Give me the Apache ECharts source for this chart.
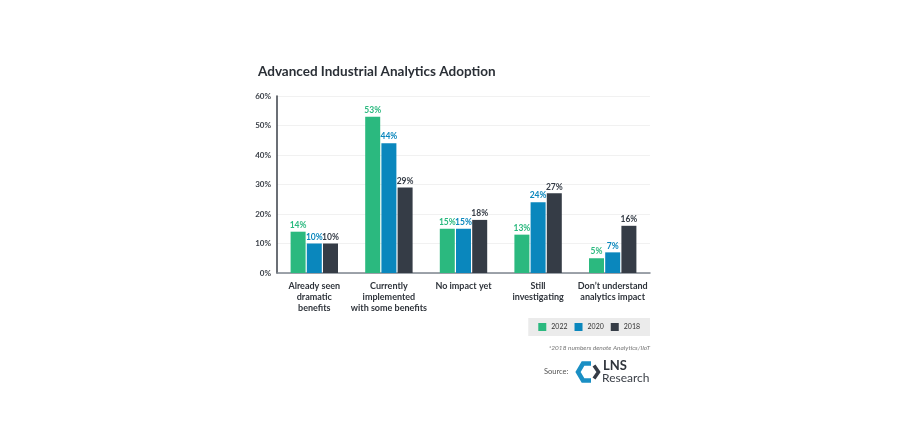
<!DOCTYPE html>
<html lang="en">
<head>
    <meta charset="UTF-8">
    <title>Advanced Industrial Analytics Adoption</title>
    <script src="https://cdn.jsdelivr.net/npm/echarts@6/dist/echarts.min.js"></script>
    <style>
        html, body { margin: 0; padding: 0; background: #fff; }
        #main { width: 900px; height: 433px; }
    </style>
</head>
<body>
<div id="main"></div>
<script>
    // categories and values
    var categories = [
        'Already seen\ndramatic\nbenefits',
        'Currently\nimplemented\nwith some benefits',
        'No impact yet',
        'Still\ninvestigating',
        'Don\u2019t understand\nanalytics impact'
    ];
    var years = ['2022', '2020', '2018'];
    var values2022 = [14, 53, 15, 13, 5];
    var values2020 = [10, 44, 15, 24, 7];
    var values2018 = [10, 29, 18, 27, 16];
    var colors = ['#2bb97f', '#0a87bd', '#353c46'];

    var font = 'Lato, "Open Sans", sans-serif';
    var myChart = echarts.init(document.getElementById('main'));

    function makeSeries(name, data, color) {
        return {
            name: name,
            type: 'bar',
            data: data,
            barWidth: 15,
            barGap: '8%',
            itemStyle: {color: color},
            label: {
                show: true,
                position: 'top',
                distance: 2,
                formatter: '{c}%',
                color: color,
                fontFamily: font,
                fontSize: 8.5,
                fontWeight: 'bold'
            }
        };
    }

    var option = {
        animation: false,
        backgroundColor: '#fff',
        color: colors,
        title: {
            text: 'Advanced Industrial Analytics Adoption',
            left: 253,
            top: 60,
            textStyle: {fontFamily: font, fontSize: 13.5, fontWeight: 'bold', color: '#2a2f36'}
        },
        grid: {left: 277, right: 250, top: 96, bottom: 160},
        legend: {
            data: years,
            right: 250,
            top: 318,
            padding: [5, 10, 5, 10],
            backgroundColor: '#ebebeb',
            icon: 'rect',
            itemWidth: 8,
            itemHeight: 8,
            itemGap: 7,
            textStyle: {fontFamily: font, fontSize: 7, color: '#333'}
        },
        xAxis: {
            type: 'category',
            data: categories,
            axisTick: {show: false},
            axisLine: {lineStyle: {color: '#7d858f', width: 1.5}},
            axisLabel: {
                interval: 0,
                margin: 8,
                fontFamily: font,
                fontSize: 9,
                fontWeight: 'bold',
                lineHeight: 11,
                color: '#2f343b'
            }
        },
        yAxis: {
            type: 'value',
            min: 0,
            max: 60,
            interval: 10,
            axisLine: {show: true, lineStyle: {color: '#3a3f47', width: 1.5}},
            axisTick: {show: false},
            splitLine: {lineStyle: {color: '#f1f1f1', width: 1}},
            axisLabel: {
                formatter: '{value}%',
                margin: 6,
                fontFamily: font,
                fontSize: 8,
                fontWeight: 'bold',
                color: '#3a3f47'
            }
        },
        series: [
            makeSeries(years[0], values2022, colors[0]),
            makeSeries(years[1], values2020, colors[1]),
            makeSeries(years[2], values2018, colors[2])
        ],
        graphic: [
            {
                type: 'text',
                right: 250,
                top: 344,
                style: {
                    text: '*2018 numbers denote Analytics/IIoT',
                    font: 'italic 6.5px ' + font,
                    fill: '#777'
                }
            },
            {
                type: 'text',
                x: 544,
                y: 368,
                style: {text: 'Source:', font: '7.5px ' + font, fill: '#555'}
            },
            {
                type: 'polyline',
                shape: {points: [[591, 363.5], [583, 363.5], [578, 372], [583, 380.5], [591, 380.5]]},
                style: {stroke: '#1a8fc4', lineWidth: 4.5, fill: null, lineJoin: 'miter'}
            },
            {
                type: 'polyline',
                shape: {points: [[594, 365.5], [598.5, 372], [594, 378.5]]},
                style: {stroke: '#353c46', lineWidth: 3.5, fill: null, lineJoin: 'miter'}
            },
            {
                type: 'text',
                x: 603,
                y: 359,
                style: {text: 'LNS', font: 'bold 13px ' + font, fill: '#2f343b'}
            },
            {
                type: 'text',
                x: 602,
                y: 372,
                style: {text: 'Research', font: '12px ' + font, fill: '#3a3f47'}
            }
        ]
    };

    myChart.setOption(option);
</script>
</body>
</html>
